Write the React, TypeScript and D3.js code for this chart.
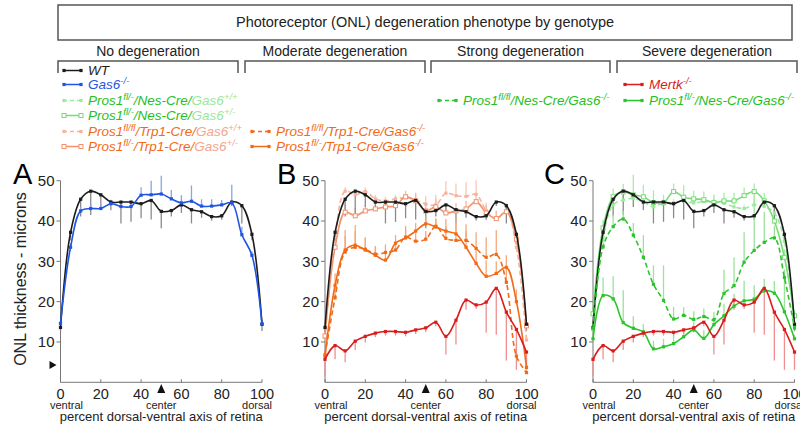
import React from "react";
import * as d3 from "d3";

// position along the dorsal-ventral axis (%)
const positions = [0, 5, 10, 15, 20, 25, 30, 35, 40, 45, 50, 55, 60, 65, 70, 75, 80, 85, 90, 95, 100];
const xTicks = [0, 20, 40, 60, 80, 100];
const yTicks = [10, 20, 30, 40, 50];

// ONL thickness (microns) and one-sided error bar lengths
const wt = [13.6, 37.2, 45.4, 47.4, 46.5, 44.7, 44.7, 44.7, 44.3, 45.1, 42.4, 42.6, 44.0, 42.8, 42.3, 41.1, 41.3, 44.7, 43.8, 36.7, 14.4];
const wtErr = [1, 2, 4.3, 5.9, 3, 2, 5.3, 4.9, 3.6, 4.7, 4.2, 1.5, 2, 3.4, 1.5, 1, 1, 1, 4.4, 1.5, 1.7];
const gas6 = [14.6, 33.5, 42.5, 43.1, 43.1, 44.3, 43.6, 43.6, 46.4, 46.5, 46.7, 45.5, 44.5, 44.9, 43.7, 43.7, 44.0, 44.5, 36.6, 31.5, 14.5];
const gas6Err = [0.5, 1, 1, 1, 1, 1, 1, 1, 2, 3.5, 4.5, 2.2, 1.9, 3.9, 1.7, 1.7, 1.2, 4.5, 2, 1, 1];
const trpFlflGasWt = [11, 36, 47.4, 46.5, 47.3, 45.5, 45, 45.5, 45.8, 45.2, 44.2, 44, 46.9, 46.3, 46.1, 46.6, 42.6, 40.5, 42.5, 33.5, 10.5];
const trpFlflGasWtErr = [1, 1, 1, 1.5, 1, 1, 1, 1, 1, 1.5, 2, 2.5, 3, 3, 3.5, 3.5, 2, 2, 2, 3, 1];
const trpFlGasHet = [11.5, 33.5, 42.2, 41.3, 42.5, 43, 43.5, 43.8, 46, 45, 42.5, 43.5, 42, 42.5, 43, 44.8, 42, 40.6, 42.3, 35.5, 14];
const trpFlGasHetErr = [1, 2, 2, 2, 1.5, 1, 1, 1, 1.5, 2, 2, 2, 2, 2, 2, 2, 2, 2, 2, 2, 1];
const trpFlflGasKo = [6.8, 21, 32.3, 33.5, 33, 31.8, 32.2, 32.8, 36, 35, 35.5, 38.7, 35.7, 35.2, 35.2, 33.2, 31, 31.7, 24.8, 6.5, 2.4];
const trpFlflGasKoErr = [1, 3, 4, 4, 3, 2, 2, 2, 2, 2, 2, 2, 3, 4, 4, 4, 5, 6, 4, 3, 1];
const trpFlGasKo = [6.5, 24, 32.8, 34, 32.8, 31.5, 30.3, 34.5, 35.8, 37.5, 39.3, 38.5, 37.5, 36.8, 33.5, 29.5, 26.3, 27, 28.5, 20, 3.7];
const trpFlGasKoErr = [1, 3, 5, 5, 3, 2, 2, 2, 3, 2, 2, 2, 3, 4, 4, 4, 4, 3, 3, 3, 1];
const mertk = [5.7, 9.1, 7.8, 10.2, 11.4, 12.2, 12.6, 12.6, 12.4, 13, 13.5, 14.9, 11.4, 15.4, 20.4, 19.2, 19.9, 23.3, 17.4, 13.1, 7.5];
const mertkErr = [4, 3.4, 2.8, 2.2, 1.5, 1, 1, 1, 1, 1, 1, 1, 4.5, 6, 2.4, 1, 7.6, 11.5, 12, 10, 4.4];
const nesFlGasWt = [13, 36, 44, 45.2, 45.6, 44.8, 43.5, 44.5, 44.5, 45, 44.5, 44.8, 44.7, 44.4, 43.5, 43.1, 44, 43.6, 42, 35, 14];
const nesFlGasWtErr = [1, 1, 1, 1, 1, 1, 1, 1, 1, 1, 1, 1, 1, 1, 1, 1, 1, 1, 1, 1, 1];
const nesFlGasHet = [17, 38.3, 46, 47.2, 46.5, 46, 44.6, 44.5, 47.3, 45.9, 45.5, 45.3, 44.6, 45, 45, 46.3, 47.3, 45, 40, 31, 16.5];
const nesFlGasHetErr = [1, 2, 2, 2, 5, 3, 3, 2, 2, 3, 2, 2, 2, 2, 2, 2, 2, 2, 3, 2, 1];
const nesFlflGasKo = [13.3, 33.6, 38.6, 40.5, 36.5, 31, 24.3, 20.3, 15.7, 16.6, 15.6, 16.3, 15.5, 22, 24, 29.8, 32.7, 34.7, 35.8, 26, 13.5];
const nesFlflGasKoErr = [1, 3, 3, 2, 3, 5.5, 4.7, 8.7, 3, 2, 2, 2, 2, 5.9, 7, 7.4, 15, 7.6, 3, 2, 1];
const nesFlGasKo = [10.8, 21.5, 20.7, 14.8, 13.4, 12.5, 8.3, 8.8, 9.6, 11.3, 13, 10.9, 14.3, 16.5, 18.9, 20.2, 20.6, 22.7, 22.1, 17.5, 10.8];
const nesFlGasKoErr = [1, 4.5, 5.6, 8, 3, 2, 2, 2, 2, 2, 2, 2, 2, 3, 3, 5, 3.5, 3, 3, 8.5, 1];

const FONT = "'Liberation Sans', Arial, Helvetica, sans-serif";
const C = {
  black: "#1c1c1c", blue: "#1f55e2", salmonLight: "#f8b39c", salmon: "#f2926c",
  orange: "#f26a16", red: "#d91c1c", greenLight: "#9ceb9c", greenMid: "#74dd74", green: "#2cc42c",
  greenText: "#25c025", greenTextLight: "#9be89b", orangeText: "#f26a16", salmonText: "#f5a58c",
};

type Series = { values: number[]; err: number[]; dir: number; color: string; errColor: string; dashed?: boolean; open?: boolean };

const S: Record<string, Series> = {
  wt: { values: wt, err: wtErr, dir: -1, color: C.black, errColor: "#8a8a8a" },
  gas6: { values: gas6, err: gas6Err, dir: 1, color: C.blue, errColor: "#86a3f0" },
  trpFlflGasWt: { values: trpFlflGasWt, err: trpFlflGasWtErr, dir: 1, color: C.salmonLight, errColor: "#f9c8b6", dashed: true },
  trpFlGasHet: { values: trpFlGasHet, err: trpFlGasHetErr, dir: 1, color: C.salmon, errColor: "#f7b8a0", open: true },
  trpFlflGasKo: { values: trpFlflGasKo, err: trpFlflGasKoErr, dir: 1, color: C.orange, errColor: "#f6a87a", dashed: true },
  trpFlGasKo: { values: trpFlGasKo, err: trpFlGasKoErr, dir: 1, color: C.orange, errColor: "#f6a87a" },
  mertk: { values: mertk, err: mertkErr, dir: -1, color: C.red, errColor: "#ef8f8f" },
  nesFlGasWt: { values: nesFlGasWt, err: nesFlGasWtErr, dir: 1, color: C.greenLight, errColor: "#c2f2c2", dashed: true },
  nesFlGasHet: { values: nesFlGasHet, err: nesFlGasHetErr, dir: 1, color: C.greenMid, errColor: "#a8eaa8", open: true },
  nesFlflGasKo: { values: nesFlflGasKo, err: nesFlflGasKoErr, dir: 1, color: C.green, errColor: "#9be29b", dashed: true },
  nesFlGasKo: { values: nesFlGasKo, err: nesFlGasKoErr, dir: 1, color: C.green, errColor: "#9be29b" },
};

const panels = [
  { letter: "A", x0: 60.5, letterX: 13, side: true, series: [S.wt, S.gas6] },
  { letter: "B", x0: 325, letterX: 277, side: false, series: [S.trpFlflGasWt, S.trpFlGasHet, S.wt, S.trpFlflGasKo, S.trpFlGasKo, S.mertk] },
  { letter: "C", x0: 593, letterX: 544, side: false, series: [S.nesFlGasWt, S.nesFlGasHet, S.wt, S.nesFlflGasKo, S.nesFlGasKo, S.mertk] },
];

const PW = 201.5;
const y = d3.scaleLinear().domain([0, 50]).range([382.3, 180.7]);

type Seg = { t: string; c: string; sup?: boolean };
const RichText = ({ x, yy, segs }: { x: number; yy: number; segs: Seg[] }) => {
  let prevSup = false;
  return (
    <text x={x} y={yy} fontFamily={FONT} fontSize={13.5} fontStyle="italic">
      {segs.map((s, i) => {
        const sup = !!s.sup;
        const dy = sup && !prevSup ? -5.5 : !sup && prevSup ? 5.5 : 0;
        prevSup = sup;
        return (
          <tspan key={i} dy={dy} fill={s.c} fontSize={sup ? 9.5 : 13.5}>{s.t}</tspan>
        );
      })}
    </text>
  );
};

const pros = (sup: string, cre: string, gas: string, c1: string, c2: string): Seg[] => [
  { t: "Pros1", c: c1 }, { t: sup, c: c1, sup: true }, { t: `/${cre}/`, c: c1 }, { t: "Gas6", c: c2 }, { t: gas, c: c2, sup: true },
];

const legend: { x: number; yy: number; s: Series; segs: Seg[] }[] = [
  { x: 63, yy: 75, s: S.wt, segs: [{ t: "WT", c: C.black }] },
  { x: 63, yy: 89, s: S.gas6, segs: [{ t: "Gas6", c: C.blue }, { t: "-/-", c: C.blue, sup: true }] },
  { x: 63, yy: 105, s: S.nesFlGasWt, segs: pros("fl/-", "Nes-Cre", "+/+", C.greenText, C.greenTextLight) },
  { x: 63, yy: 120, s: S.nesFlGasHet, segs: pros("fl/-", "Nes-Cre", "+/-", C.greenText, C.greenTextLight) },
  { x: 63, yy: 136, s: S.trpFlflGasWt, segs: pros("fl/fl", "Trp1-Cre", "+/+", C.orangeText, C.salmonText) },
  { x: 63, yy: 151, s: S.trpFlGasHet, segs: pros("fl/-", "Trp1-Cre", "+/-", C.orangeText, C.salmonText) },
  { x: 251, yy: 136, s: S.trpFlflGasKo, segs: pros("fl/fl", "Trp1-Cre", "-/-", C.orangeText, C.orangeText) },
  { x: 251, yy: 151, s: S.trpFlGasKo, segs: pros("fl/-", "Trp1-Cre", "-/-", C.orangeText, C.orangeText) },
  { x: 438, yy: 105, s: S.nesFlflGasKo, segs: pros("fl/fl", "Nes-Cre", "-/-", C.greenText, C.greenText) },
  { x: 624, yy: 89, s: S.mertk, segs: [{ t: "Mertk", c: C.red }, { t: "-/-", c: C.red, sup: true }] },
  { x: 624, yy: 105, s: S.nesFlGasKo, segs: pros("fl/-", "Nes-Cre", "-/-", C.greenText, C.greenText) },
];

const groups = [
  { label: "No degeneration", x0: 58, x1: 238 },
  { label: "Moderate degeneration", x0: 245, x1: 425 },
  { label: "Strong degeneration", x0: 431, x1: 610 },
  { label: "Severe degeneration", x0: 617, x1: 797 },
];

const Marker = ({ cx, cy, s }: { cx: number; cy: number; s: Series }) =>
  s.open ? (
    <rect x={cx - 2} y={cy - 2} width={4} height={4} fill="#fff" stroke={s.color} strokeWidth={1} />
  ) : (
    <rect x={cx - 1.6} y={cy - 1.6} width={3.2} height={3.2} fill={s.color} />
  );

const Panel = ({ p }: { p: (typeof panels)[number] }) => {
  const x = d3.scaleLinear().domain([0, 100]).range([p.x0, p.x0 + PW]);
  const line = d3.line<number>().x((_, i) => x(positions[i])).y((d) => y(d)).curve(d3.curveCatmullRom.alpha(0.5));
  const axisColor = "#777";
  return (
    <g>
      <text x={p.letterX} y={184} fontFamily={FONT} fontSize={29}>{p.letter}</text>
      {/* y axis */}
      <line x1={p.x0} x2={p.x0} y1={y(50)} y2={y(0)} stroke={axisColor} />
      {yTicks.map((t) => (
        <g key={t}>
          <line x1={p.x0 - 4} x2={p.x0} y1={y(t)} y2={y(t)} stroke={axisColor} />
          <text x={p.x0 - 6} y={y(t)} dy="0.35em" textAnchor="end" fontFamily={FONT} fontSize={15} fill="#222">{t}</text>
        </g>
      ))}
      {/* x axis */}
      <line x1={p.x0} x2={p.x0 + PW} y1={y(0)} y2={y(0)} stroke={axisColor} />
      {xTicks.map((t) => (
        <g key={t}>
          <line x1={x(t)} x2={x(t)} y1={y(0)} y2={y(0) - 3} stroke={axisColor} />
          <text x={x(t)} y={398.5} textAnchor="middle" fontFamily={FONT} fontSize={14.5} fill="#222">{t}</text>
        </g>
      ))}
      <text x={x(0) + 6} y={409} textAnchor="middle" fontFamily={FONT} fontSize={11} fill="#222">ventral</text>
      <text x={x(50)} y={409} textAnchor="middle" fontFamily={FONT} fontSize={11} fill="#222">center</text>
      <text x={x(100) - 5} y={409} textAnchor="middle" fontFamily={FONT} fontSize={11} fill="#222">dorsal</text>
      <text x={x(50)} y={421} textAnchor="middle" fontFamily={FONT} fontSize={13} fill="#222">percent dorsal-ventral axis of retina</text>
      <path d={`M${x(50)},384 L${x(50) - 4},393 L${x(50) + 4},393 Z`} fill="#111" />
      {p.side && <path d={`M${p.x0 - 11},${y(4.3) - 4} L${p.x0 - 4},${y(4.3)} L${p.x0 - 11},${y(4.3) + 4} Z`} fill="#111" />}
      {/* error bars */}
      {p.series.map((s, si) => (
        <g key={`e${si}`}>
          {s.values.map((v, i) => (
            <line key={i} x1={x(positions[i])} x2={x(positions[i])} y1={y(v)} y2={y(v + s.dir * s.err[i])} stroke={s.errColor} strokeWidth={1.3} />
          ))}
        </g>
      ))}
      {/* lines and markers */}
      {p.series.map((s, si) => (
        <g key={`l${si}`}>
          <path d={line(s.values) || ""} fill="none" stroke={s.color} strokeWidth={1.6} strokeDasharray={s.dashed ? "5,3" : undefined} />
          {s.values.map((v, i) => (
            <Marker key={i} cx={x(positions[i])} cy={y(v)} s={s} />
          ))}
        </g>
      ))}
    </g>
  );
};

export default function App() {
  return (
    <svg width={800} height={429} style={{ position: "absolute", left: 0, top: 0, background: "#fff" }}>
      <rect x={58} y={5} width={734} height={35} fill="none" stroke="#555" strokeWidth={1.5} />
      <text x={425} y={27} textAnchor="middle" fontFamily={FONT} fontSize={14.5} fill="#222">
        Photoreceptor (ONL) degeneration phenotype by genotype
      </text>
      {groups.map((g) => (
        <g key={g.label}>
          <text x={(g.x0 + g.x1) / 2} y={56} textAnchor="middle" fontFamily={FONT} fontSize={14} fill="#222">{g.label}</text>
          <path d={`M${g.x0},73 V61 H${g.x1} V73`} fill="none" stroke="#555" strokeWidth={1.5} />
        </g>
      ))}
      {legend.map((l, i) => (
        <g key={i}>
          <line x1={l.x} x2={l.x + 19} y1={l.yy - 4.5} y2={l.yy - 4.5} stroke={l.s.color} strokeWidth={1.5} strokeDasharray={l.s.dashed ? "4,3" : undefined} />
          <Marker cx={l.x + 1} cy={l.yy - 4.5} s={l.s} />
          <Marker cx={l.x + 18} cy={l.yy - 4.5} s={l.s} />
          <RichText x={l.x + 25} yy={l.yy} segs={l.segs} />
        </g>
      ))}
      <text transform="translate(26,279) rotate(-90)" textAnchor="middle" fontFamily={FONT} fontSize={16} fill="#222">
        ONL thickness - microns
      </text>
      {panels.map((p) => (
        <Panel key={p.letter} p={p} />
      ))}
    </svg>
  );
}
